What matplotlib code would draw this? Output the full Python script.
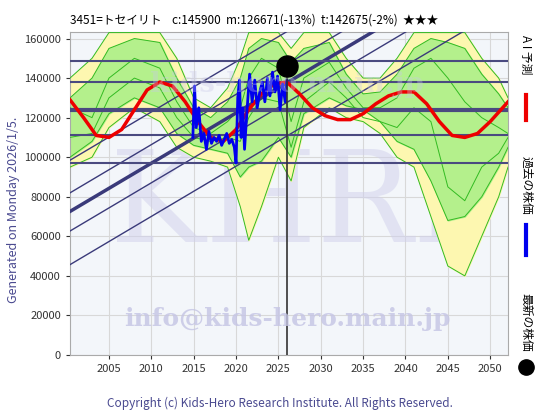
import matplotlib
matplotlib.use("Agg")
import matplotlib.pyplot as plt
import numpy as np

plt.rcParams['font.family'] = ['Noto Sans CJK JP', 'DejaVu Sans']

title = "3451=トセイリト    c:145900  m:126671(-13%)  t:142675(-2%)  ★★★"
xticks = [2005, 2010, 2015, 2020, 2025, 2030, 2035, 2040, 2045, 2050]
yticks = [0, 20000, 40000, 60000, 80000, 100000, 120000, 140000, 160000]

band_yrs = [2000.4, 2003, 2005, 2008, 2011, 2013, 2015, 2017, 2019, 2020.5, 2021.5, 2023, 2025, 2026.5, 2028, 2031, 2033, 2035, 2037, 2039, 2041, 2043, 2045, 2047, 2049, 2051, 2052.1]
yel_hi = [140000, 150000, 163000, 163000, 163000, 150000, 130000, 125000, 135000, 150000, 163000, 163000, 163000, 155000, 163000, 163000, 150000, 140000, 140000, 150000, 163000, 163000, 163000, 163000, 150000, 140000, 130000]
yel_lo = [95000, 100000, 115000, 125000, 118000, 105000, 100000, 98000, 95000, 75000, 58000, 75000, 100000, 88000, 115000, 125000, 120000, 118000, 112000, 100000, 95000, 70000, 45000, 40000, 60000, 80000, 95000]
grn_hi = [130000, 140000, 155000, 160000, 158000, 140000, 125000, 120000, 128000, 140000, 155000, 160000, 158000, 148000, 155000, 158000, 142000, 132000, 133000, 142000, 155000, 160000, 158000, 155000, 142000, 132000, 125000]
grn_lo = [100000, 108000, 122000, 130000, 125000, 112000, 106000, 104000, 102000, 90000, 95000, 98000, 110000, 100000, 122000, 130000, 126000, 124000, 118000, 108000, 104000, 88000, 68000, 70000, 80000, 95000, 105000]
gl1 = [125000, 120000, 140000, 150000, 145000, 128000, 115000, 112000, 118000, 125000, 140000, 150000, 145000, 118000, 140000, 148000, 135000, 125000, 125000, 130000, 145000, 150000, 140000, 128000, 120000, 115000, 112000]
gl2 = [110000, 112000, 130000, 140000, 135000, 120000, 110000, 108000, 110000, 108000, 120000, 130000, 128000, 105000, 128000, 138000, 130000, 120000, 118000, 115000, 125000, 118000, 85000, 78000, 95000, 102000, 110000]

ai_yrs = [2000.4, 2002, 2003.5, 2005, 2006.5, 2008, 2009.5, 2011, 2012.5, 2014, 2015.5, 2017, 2018.5, 2020, 2021.5, 2023, 2024.5, 2026, 2027.5, 2029, 2030.5, 2032, 2033.5, 2035, 2036.5, 2038, 2039.5, 2041, 2042.5, 2044, 2045.5, 2047, 2048.5, 2050, 2052.1]
ai_val = [129000, 120000, 111000, 110000, 114000, 124000, 134000, 138000, 136000, 128000, 118000, 110000, 108000, 114000, 124000, 132000, 137000, 138000, 132000, 125000, 121000, 119000, 119000, 122000, 127000, 131000, 133000, 133000, 127000, 118000, 111000, 110000, 112000, 118000, 128000]

px_yrs = [2014.9, 2015.1, 2015.3, 2015.6, 2015.9, 2016.2, 2016.5, 2016.8, 2017.1, 2017.4, 2017.7, 2018.0, 2018.3, 2018.6, 2018.9, 2019.2, 2019.5, 2019.8, 2020.0, 2020.2, 2020.4, 2020.6, 2020.8, 2021.0, 2021.3, 2021.6, 2021.9, 2022.2, 2022.5, 2022.8, 2023.1, 2023.4, 2023.7, 2024.0, 2024.3, 2024.6, 2024.9, 2025.2, 2025.5, 2025.8, 2026.0]
px_val = [110000, 136000, 115000, 125000, 108000, 112000, 104000, 113000, 107000, 110000, 108000, 111000, 106000, 109000, 112000, 107000, 109000, 105000, 97000, 130000, 139000, 110000, 125000, 104000, 124000, 142000, 128000, 139000, 125000, 133000, 138000, 128000, 140000, 131000, 143000, 133000, 141000, 124000, 137000, 128000, 139000]

hlines = [148500, 138000, 124000, 111000, 97000]
hwidth = [1.5, 1.5, 3, 1.5, 1.5]
diag_int = [100000, 83500, 74100, 64200, 47200]
diag_w = [1, 1, 2.5, 1, 1]
slope = 2540
latest_x, latest_y = 2026.0, 146000

fig = plt.figure(figsize=(5.6, 4.2), dpi=100)
ax = fig.add_axes([70/560, 1-355/420, 438/560, 323/420])
ax.set_facecolor('#f3f6fa')
ax.set_xlim(2000.4, 2052.1)
ax.set_ylim(0, 163300)
ax.set_xticks(xticks); ax.set_yticks(yticks)
ax.grid(color='#d8d8d8', lw=0.8)
ax.set_axisbelow(True)
ax.tick_params(labelsize=8, length=3, colors='#333333')
for s in ax.spines.values():
    s.set_color('#aaaaaa')

ax.text(2026, 75000, "KHRI", fontsize=92, family='DejaVu Serif', color='#d0d0ec', alpha=0.5, ha='center', va='center', zorder=1)
ax.text(2026, 18000, "info@kids-hero.main.jp", fontsize=18, family='DejaVu Serif', weight='bold', color='#c4c4e4', alpha=0.8, ha='center', va='center', zorder=6)
ax.text(2026, 137000, "kids-hero.main.jp", fontsize=20, family='DejaVu Serif', weight='bold', color='#c8c8e8', alpha=0.35, ha='center', va='center', zorder=6)

ax.fill_between(band_yrs, yel_lo, yel_hi, color='#fdf7b0', zorder=2)
ax.fill_between(band_yrs, grn_lo, grn_hi, color='#b4f08c', zorder=2)
for arr in (yel_lo, yel_hi, grn_lo, grn_hi, gl1, gl2):
    ax.plot(band_yrs, arr, color='#33bb22', lw=0.7, zorder=3)

xs = np.array([2000.4, 2052.1])
for b, w in zip(diag_int, diag_w):
    ax.plot(xs, b + slope*(xs-2001), color='#3a3a7a', lw=w, zorder=4)
for h, w in zip(hlines, hwidth):
    ax.axhline(h, color='#4a4a80', lw=w, zorder=4)

ax.plot(ai_yrs, ai_val, color='#ee0000', lw=2.5, zorder=5)
ax.plot(px_yrs, px_val, color='#0000ee', lw=2, zorder=5)
ax.plot([latest_x, latest_x], [0, latest_y], color='#333333', lw=1.2, zorder=5)
ax.scatter([latest_x], [latest_y], s=230, color='black', zorder=7)

fig.text(70/560, 1-20/420, title, fontsize=8.5, va='center', ha='left')
fig.text(14/560, 0.5, "Generated on Monday 2026/1/5.", rotation=90, fontsize=9, color='#4a4a90', va='center', ha='center')
fig.text(0.5, 1-403/420, "Copyright (c) Kids-Hero Research Institute. All Rights Reserved.", fontsize=8.5, color='#4a4a90', ha='center', va='center')

fig.text(526/560, 1-55/420, "A I 予測", rotation=270, fontsize=8.5, ha='center', va='center')
fig.add_artist(plt.Line2D([526/560]*2, [1-95/420, 1-120/420], color='#ee0000', lw=3))
fig.text(526/560, 1-185/420, "過去の株価", rotation=270, fontsize=8.5, ha='center', va='center')
fig.add_artist(plt.Line2D([526/560]*2, [1-225/420, 1-255/420], color='#0000ee', lw=3))
fig.text(526/560, 1-322/420, "最新の株価", rotation=270, fontsize=8.5, ha='center', va='center')
fig.add_artist(plt.Line2D([526/560], [1-367/420], marker='o', markersize=11, color='black', lw=0))

fig.savefig("out.png", dpi=100)
